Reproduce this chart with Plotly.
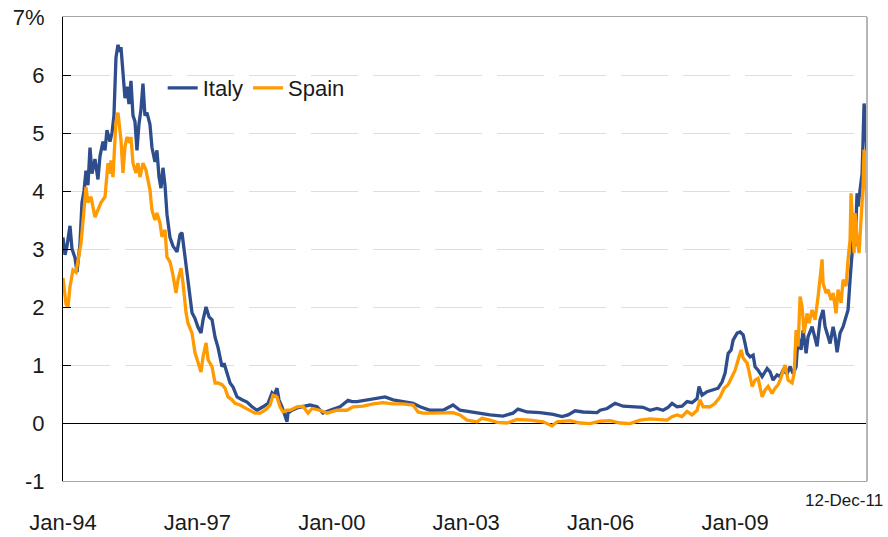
import plotly.graph_objects as go
from datetime import datetime, timedelta

# Time stamps are expressed as years elapsed since 1 Jan 1994
italy_t = [0.000, 0.045, 0.089, 0.156, 0.201, 0.268, 0.313, 0.379, 0.424, 0.469, 0.513, 0.558, 0.603, 0.647,
           0.714, 0.781, 0.826, 0.893, 0.938, 0.982, 1.049, 1.094, 1.138, 1.161, 1.183, 1.228, 1.272, 1.295,
           1.339, 1.384, 1.429, 1.473, 1.518, 1.563, 1.607, 1.652, 1.696, 1.741, 1.786, 1.830, 1.875, 1.942,
           1.987, 2.054, 2.098, 2.143, 2.188, 2.232, 2.277, 2.321, 2.388, 2.455, 2.545, 2.612, 2.656, 2.701,
           2.768, 2.813, 2.879, 2.946, 3.013, 3.080, 3.125, 3.192, 3.259, 3.326, 3.393, 3.460, 3.549, 3.594,
           3.661, 3.728, 3.795, 3.884, 3.996, 4.107, 4.219, 4.330, 4.464, 4.576, 4.665, 4.710, 4.777, 4.821,
           4.888, 4.933, 5.000, 5.022, 5.112, 5.223, 5.290, 5.513, 5.670, 5.804, 5.960, 6.183, 6.362, 6.451,
           6.563, 6.786, 7.009, 7.188, 7.366, 7.589, 7.813, 7.969, 8.192, 8.482, 8.705, 8.862, 9.085, 9.308,
           9.531, 9.821, 10.045, 10.156, 10.357, 10.647, 10.938, 11.138, 11.272, 11.429, 11.607, 11.920,
           11.987, 12.143, 12.321, 12.500, 12.723, 12.946, 13.103, 13.259, 13.393, 13.504, 13.594, 13.705,
           13.817, 13.929, 14.040, 14.152, 14.196, 14.263, 14.375, 14.509, 14.621, 14.710, 14.777, 14.844,
           14.911, 14.955, 15.045, 15.112, 15.179, 15.223, 15.268, 15.335, 15.402, 15.446, 15.513, 15.603,
           15.647, 15.714, 15.781, 15.848, 15.938, 16.004, 16.071, 16.161, 16.228, 16.295, 16.362, 16.406,
           16.473, 16.518, 16.585, 16.629, 16.719, 16.786, 16.830, 16.897, 16.964, 17.009, 17.054, 17.121,
           17.188, 17.232, 17.277, 17.344, 17.411, 17.455, 17.522, 17.567, 17.612, 17.634, 17.679, 17.723,
           17.746, 17.790, 17.835, 17.857, 17.879, 17.902, 17.924, 17.946]
italy = [3.2, 2.9, 3.05, 3.4, 3.0, 2.85, 2.6, 3.1, 3.8, 4.0, 4.35, 4.1, 4.75, 4.3,
         4.55, 4.2, 4.6, 4.85, 4.7, 5.05, 4.85, 5.0, 5.3, 5.7, 6.3, 6.52, 6.4, 6.48,
         6.1, 5.6, 5.8, 5.5, 5.9, 5.3, 5.2, 4.7, 5.15, 5.4, 5.85, 5.3, 5.35, 5.15,
         4.75, 4.5, 4.7, 4.25, 4.05, 4.4, 4.1, 3.6, 3.2, 3.05, 2.95, 3.25, 3.28, 3.0,
         2.5, 2.2, 1.9, 1.8, 1.65, 1.55, 1.78, 2.0, 1.83, 1.78, 1.48, 1.3, 0.97, 1.03,
         0.86, 0.69, 0.62, 0.45, 0.40, 0.36, 0.28, 0.22, 0.28, 0.34, 0.52, 0.48, 0.60, 0.40,
         0.28, 0.17, 0.02, 0.17, 0.22, 0.26, 0.27, 0.31, 0.28, 0.17, 0.22, 0.28, 0.39, 0.37,
         0.37, 0.40, 0.43, 0.45, 0.40, 0.37, 0.34, 0.28, 0.22, 0.22, 0.31, 0.22, 0.19, 0.17,
         0.14, 0.12, 0.17, 0.24, 0.19, 0.18, 0.15, 0.11, 0.14, 0.21, 0.19, 0.18,
         0.22, 0.25, 0.34, 0.29, 0.28, 0.27, 0.22, 0.25, 0.22, 0.27, 0.34, 0.28,
         0.29, 0.37, 0.35, 0.42, 0.63, 0.48, 0.54, 0.57, 0.60, 0.71, 0.86, 1.2,
         1.26, 1.43, 1.55, 1.57, 1.52, 1.37, 1.2, 1.14, 1.17, 0.97, 0.91, 0.80,
         0.86, 0.94, 0.88, 0.74, 0.83, 0.80, 0.91, 0.85, 0.97, 0.85, 0.97, 1.49,
         1.26, 1.6, 1.2, 1.49, 1.66, 1.43, 1.32, 1.78, 1.95, 1.66, 1.55, 1.37,
         1.66, 1.49, 1.22, 1.55, 1.66, 1.78, 1.95, 2.47, 2.93, 3.39, 3.05, 3.96,
         3.73, 4.02, 4.3, 4.88, 5.51, 5.34, 4.77, 4.6]

spain_t = [0.000, 0.067, 0.112, 0.156, 0.223, 0.290, 0.335, 0.402, 0.469, 0.513, 0.558, 0.625, 0.714, 0.781,
           0.848, 0.938, 1.004, 1.049, 1.071, 1.116, 1.161, 1.183, 1.228, 1.272, 1.295, 1.339, 1.384, 1.429,
           1.496, 1.518, 1.563, 1.629, 1.674, 1.719, 1.786, 1.853, 1.897, 1.942, 1.987, 2.054, 2.098, 2.165,
           2.210, 2.277, 2.321, 2.388, 2.455, 2.522, 2.567, 2.634, 2.679, 2.746, 2.790, 2.879, 2.946, 3.013,
           3.080, 3.125, 3.192, 3.237, 3.326, 3.393, 3.460, 3.549, 3.616, 3.683, 3.772, 3.839, 3.951, 4.063,
           4.174, 4.286, 4.397, 4.509, 4.621, 4.688, 4.777, 4.844, 4.911, 5.000, 5.067, 5.223, 5.357, 5.469,
           5.558, 5.737, 5.893, 6.116, 6.339, 6.473, 6.696, 6.920, 7.143, 7.366, 7.589, 7.813, 7.924, 8.036,
           8.259, 8.482, 8.705, 8.862, 9.018, 9.241, 9.353, 9.531, 9.688, 9.911, 10.134, 10.424, 10.714,
           10.915, 11.027, 11.317, 11.540, 11.763, 11.987, 12.210, 12.433, 12.656, 12.879, 13.103, 13.326,
           13.482, 13.594, 13.705, 13.817, 13.929, 14.040, 14.152, 14.219, 14.286, 14.442, 14.554, 14.665,
           14.754, 14.844, 14.933, 15.000, 15.067, 15.134, 15.179, 15.268, 15.313, 15.379, 15.446, 15.513,
           15.603, 15.670, 15.737, 15.826, 15.893, 15.960, 16.004, 16.071, 16.116, 16.183, 16.272, 16.317,
           16.362, 16.406, 16.451, 16.496, 16.540, 16.607, 16.652, 16.719, 16.786, 16.853, 16.920, 16.942,
           16.964, 17.031, 17.076, 17.143, 17.188, 17.254, 17.299, 17.366, 17.411, 17.478, 17.522, 17.567,
           17.589, 17.634, 17.656, 17.679, 17.723, 17.768, 17.813, 17.857, 17.879, 17.924, 17.946]
spain = [2.5, 2.05, 2.0, 2.35, 2.64, 2.6, 2.8, 3.1, 3.67, 4.07, 3.8, 3.9, 3.55, 3.67,
         3.8, 3.9, 4.48, 4.3, 4.53, 4.24, 5.05, 5.2, 5.35, 5.05, 4.88, 4.31, 4.76, 4.93,
         4.83, 4.93, 4.48, 4.31, 4.48, 4.24, 4.48, 4.36, 4.19, 4.02, 3.67, 3.5, 3.62, 3.45,
         3.21, 3.33, 2.86, 2.78, 2.55, 2.24, 2.47, 2.67, 2.41, 1.9, 1.72, 1.55, 1.21, 1.03,
         0.88, 1.14, 1.38, 1.09, 0.97, 0.69, 0.69, 0.66, 0.60, 0.45, 0.40, 0.34, 0.31, 0.26,
         0.22, 0.17, 0.17, 0.22, 0.31, 0.48, 0.45, 0.28, 0.19, 0.22, 0.22, 0.28, 0.29, 0.17,
         0.25, 0.22, 0.17, 0.22, 0.22, 0.28, 0.29, 0.33, 0.35, 0.33, 0.33, 0.31, 0.19, 0.17,
         0.17, 0.18, 0.18, 0.14, 0.05, 0.02, 0.08, 0.05, 0.01, 0.0, 0.06, 0.05, 0.02,
         -0.05, 0.02, 0.04, 0.0, -0.01, 0.03, 0.04, 0.0, -0.01, 0.05, 0.07, 0.06,
         0.05, 0.11, 0.14, 0.11, 0.20, 0.14, 0.22, 0.40, 0.28, 0.28, 0.34, 0.45,
         0.60, 0.66, 0.80, 0.91, 1.09, 1.26, 1.12, 1.03, 0.88, 0.63, 0.74, 0.77,
         0.45, 0.57, 0.63, 0.51, 0.60, 0.66, 0.74, 0.91, 1.0, 0.74, 0.69, 0.85,
         1.6, 1.32, 2.18, 2.0, 1.55, 1.89, 1.72, 1.95, 1.78, 2.18, 2.59, 2.82,
         2.41, 2.24, 2.3, 2.12, 2.24, 1.89, 2.3, 2.07, 2.47, 2.36, 2.82, 3.16,
         3.96, 3.27, 2.93, 3.62, 3.16, 2.93, 3.56, 4.08, 4.71, 4.48, 2.93]

tick_years = [1994, 1997, 2000, 2003, 2006, 2009]
tick_labels = ["Jan-94", "Jan-97", "Jan-00", "Jan-03", "Jan-06", "Jan-09"]
y_ticks = [-1, 0, 1, 2, 3, 4, 5, 6, 7]
y_labels = ["-1", "0", "1", "2", "3", "4", "5", "6", "7%"]
end_label = "12-Dec-11"


def to_date(off):
    y = 1994 + off
    yr = int(y)
    start = datetime(yr, 1, 1)
    days = (datetime(yr + 1, 1, 1) - start).days
    return start + timedelta(days=(y - yr) * days)


FONT = "Liberation Sans, Arial, sans-serif"

fig = go.Figure()
fig.add_trace(go.Scatter(x=[to_date(t) for t in italy_t], y=italy, mode="lines", name="Italy",
                         line=dict(color="#2E4D8C", width=3.3)))
fig.add_trace(go.Scatter(x=[to_date(t) for t in spain_t], y=spain, mode="lines", name="Spain",
                         line=dict(color="#FF9A00", width=3.3)))

fig.update_layout(
    width=888, height=537,
    margin=dict(l=63, r=21, t=17, b=56, autoexpand=False),
    paper_bgcolor="white", plot_bgcolor="white",
    font=dict(family=FONT, size=22, color="#1a1a1a"),
    showlegend=True,
    legend=dict(orientation="h", x=0.124, y=0.847, xanchor="left", yanchor="middle",
                bgcolor="rgba(0,0,0,0)", font=dict(size=22), itemwidth=30),
    xaxis=dict(type="date", range=[datetime(1994, 1, 1), datetime(2011, 12, 12)],
               tickvals=[datetime(y, 1, 1) for y in tick_years], ticktext=tick_labels,
               showgrid=False, zeroline=False, showline=True, linecolor="#a6a6a6", linewidth=1,
               mirror=True, ticks="", ticklabelstandoff=22, tickfont=dict(size=22), automargin=False),
    yaxis=dict(range=[-1, 7], tickvals=y_ticks, ticktext=y_labels,
               showgrid=True, gridcolor="#dedede", gridwidth=1, griddash="47px,15px",
               zeroline=True, zerolinecolor="black", zerolinewidth=1,
               showline=True, linecolor="black", linewidth=1,
               ticks="inside", ticklen=8, tickcolor="black", tickwidth=1,
               ticklabelstandoff=13, tickfont=dict(size=22), automargin=False),
    shapes=[dict(type="line", xref="paper", yref="paper", x0=1, x1=1, y0=0, y1=1,
                 line=dict(color="#b5b5b5", width=2))],
    annotations=[dict(text=end_label, xref="paper", yref="paper", x=1.022, y=-0.041,
                      xanchor="right", yanchor="middle", showarrow=False,
                      font=dict(size=17, family=FONT, color="#1a1a1a"))],
)

fig.write_html("out.html", config={"displayModeBar": False},
               post_script="document.body.style.margin='0px';document.body.style.overflow='hidden';")
